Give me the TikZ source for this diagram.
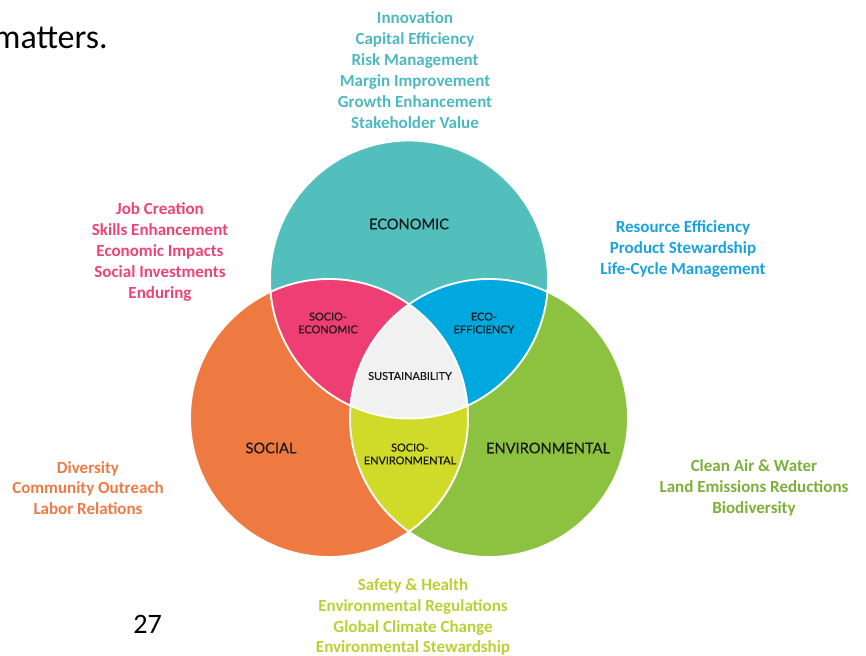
\documentclass[tikz,border=0pt]{standalone}
\usepackage{fontspec}
\setmainfont{Carlito}
\newfontfamily\vennfont[FakeBold=0.35]{Lato}
\usetikzlibrary{positioning}

\definecolor{ecoteal}{HTML}{52BFBC}
\definecolor{socorange}{HTML}{EE7A41}
\definecolor{envgreen}{HTML}{8CC23F}
\definecolor{sepink}{HTML}{EF3E74}
\definecolor{eeblue}{HTML}{00A8E0}
\definecolor{seyellow}{HTML}{CFDB28}
\definecolor{susgray}{HTML}{F1F1F1}
% text colours of the lists
\definecolor{tteal}{HTML}{4CB8C0}
\definecolor{tpink}{HTML}{EE4377}
\definecolor{tblue}{HTML}{1AA2DF}
\definecolor{torange}{HTML}{EE7B45}
\definecolor{tgreen}{HTML}{7DAF3A}
\definecolor{tyellow}{HTML}{B8D133}

\def\R{139}

\begin{document}
\begin{tikzpicture}[
  x=0.03cm, y=-0.03cm,
  ring/.style={draw=white, line width=1.6pt},
  big/.style={font=\vennfont\fontsize{12.5}{14}\selectfont, text=black!90, align=center},
  small/.style={font=\vennfont\fontsize{9.3}{11}\selectfont, text=black!90, align=center},
  list/.style={font=\bfseries\fontsize{14.5}{17.8}\selectfont, align=center}
]
\useasboundingbox (0,0) rectangle (866,656);

\coordinate (eco) at (409,279.5);
\coordinate (soc) at (329,418);
\coordinate (env) at (489,418);

% the three circles
\fill[ecoteal] (eco) circle (\R);
\fill[socorange] (soc) circle (\R);
\fill[envgreen] (env) circle (\R);

% overlaps
\begin{scope}
  \clip (eco) circle (\R);
  \fill[sepink] (soc) circle (\R);
  \fill[eeblue] (env) circle (\R);
\end{scope}
\begin{scope}
  \clip (soc) circle (\R);
  \fill[seyellow] (env) circle (\R);
\end{scope}
\begin{scope}
  \clip (eco) circle (\R);
  \clip (soc) circle (\R);
  \fill[susgray] (env) circle (\R);
\end{scope}

\draw[ring] (eco) circle (\R);
\draw[ring] (soc) circle (\R);
\draw[ring] (env) circle (\R);

% labels inside
\node[big] (economic) at (409,224) {ECONOMIC};
\node[big] (social) at (271,448) {SOCIAL};
\node[big] (environmental) at (548,448) {ENVIRONMENTAL};
\node[small] (socioeco) at (328,323) {SOCIO-\\ECONOMIC};
\node[small] (ecoeff) at (484,323) {ECO-\\EFFICIENCY};
\node[small] (sust) at (410,376) {SUSTAINABILITY};
\node[small] (socioenv) at (410,454) {SOCIO-\\ENVIRONMENTAL};

% lists round the outside
\node[list, text=tteal] (ecolist) at (415,70)
  {Innovation\\Capital Efficiency\\Risk Management\\Margin Improvement\\Growth Enhancement\\Stakeholder Value};
\node[list, text=tpink] (selist) at (160,252)
  {Job Creation\\Skills Enhancement\\Economic Impacts\\Social Investments\\Enduring};
\node[list, text=tblue] (eelist) at (683,249)
  {Resource Efficiency\\Product Stewardship\\Life-Cycle Management};
\node[list, text=torange] (soclist) at (88,488)
  {Diversity\\Community Outreach\\Labor Relations};
\node[list, text=tgreen] (envlist) at (754,488)
  {Clean Air \& Water\\Land Emissions Reductions\\Biodiversity};
\node[list, text=tyellow] (selist2) at (413,617)
  {Safety \& Health\\Environmental Regulations\\Global Climate Change\\Environmental Stewardship};

% page text
\node[anchor=base east, font=\fontsize{29}{32}\selectfont, inner sep=0pt] (matters) at (108,49) {matters.};
\node[anchor=base, font=\fontsize{24}{28}\selectfont, inner sep=0pt] (pagenum) at (147.5,633) {27};
\end{tikzpicture}
\end{document}
